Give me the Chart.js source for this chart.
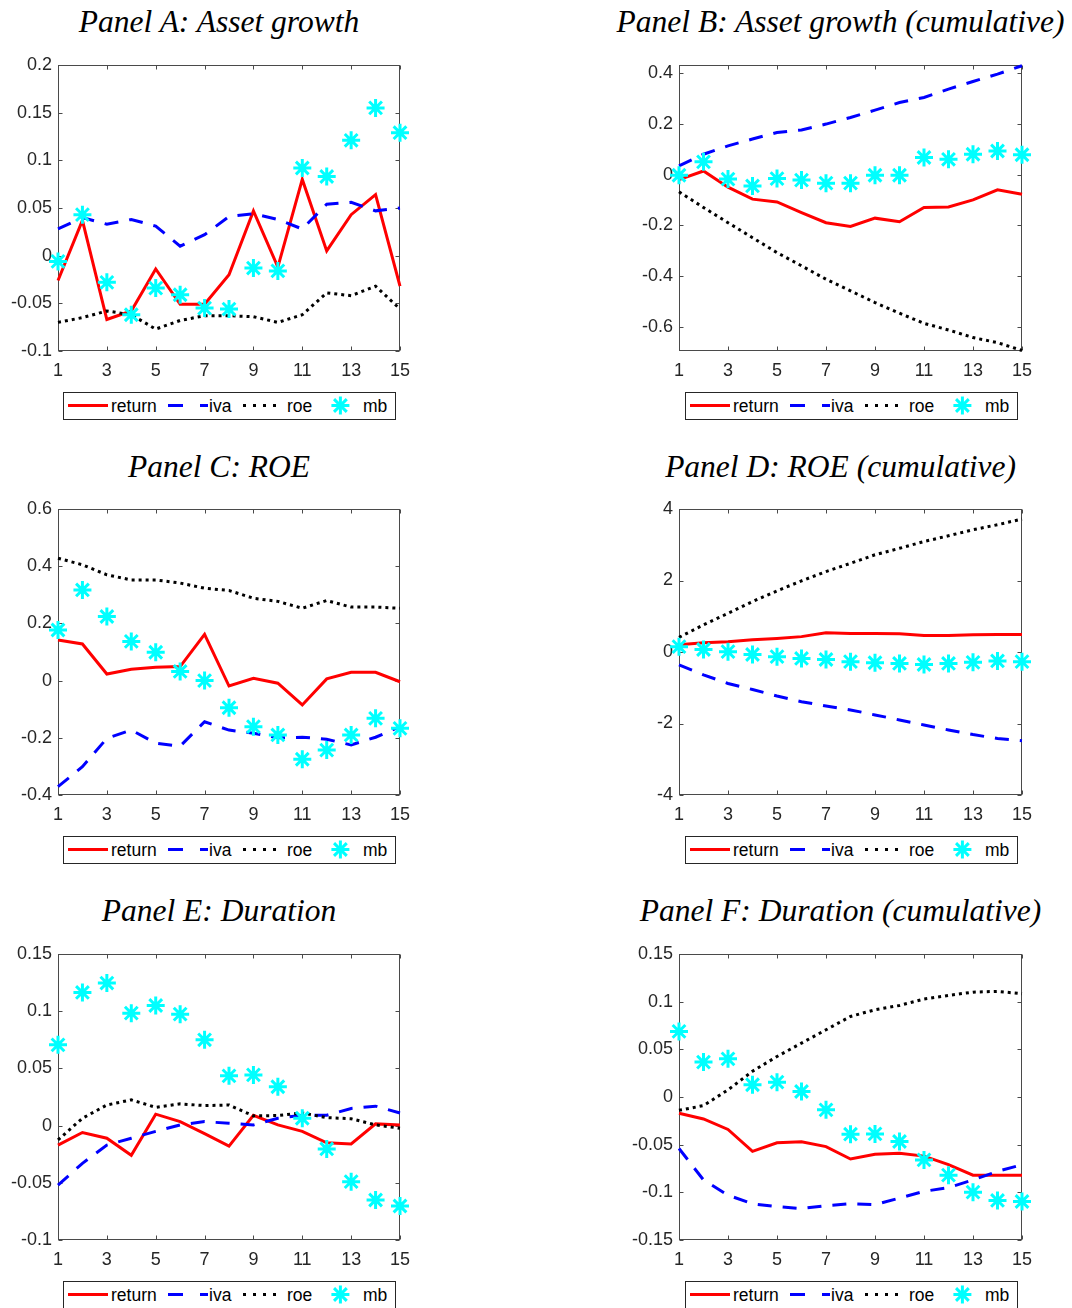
<!DOCTYPE html>
<html><head><meta charset="utf-8">
<script src="https://cdn.jsdelivr.net/npm/chart.js@4.4.0/dist/chart.umd.min.js"></script>
<style>
body{margin:0;background:#fff;width:1072px;height:1308px;overflow:hidden;position:relative;}
.title{position:absolute;font-family:"Liberation Serif","Times New Roman",serif;font-style:italic;font-size:31.5px;line-height:30px;white-space:nowrap;transform:translateX(-50%);color:#000;}
canvas{position:absolute;}
svg{position:absolute;}
</style></head><body>
<script>
// ---------- data ----------
const periods = [1,2,3,4,5,6,7,8,9,10,11,12,13,14,15];
const xTicks = [1,3,5,7,9,11,13,15];
const seriesNames = ['return','iva','roe','mb'];

// Panel A: Asset growth
const aReturn = [-0.026,0.037,-0.067,-0.058,-0.014,-0.051,-0.051,-0.020,0.047,-0.012,0.080,0.005,0.043,0.064,-0.032];
const aIva    = [0.028,0.040,0.033,0.038,0.031,0.010,0.022,0.041,0.044,0.038,0.028,0.054,0.056,0.047,0.050];
const aRoe    = [-0.070,-0.065,-0.058,-0.062,-0.077,-0.068,-0.063,-0.063,-0.064,-0.070,-0.062,-0.039,-0.042,-0.032,-0.056];
const aMb     = [-0.006,0.043,-0.028,-0.062,-0.034,-0.041,-0.055,-0.056,-0.013,-0.016,0.092,0.083,0.121,0.155,0.129];
const aTicks  = [-0.1,-0.05,0,0.05,0.1,0.15,0.2];

// Panel B: Asset growth (cumulative)
const bReturn = [-0.020,0.014,-0.050,-0.097,-0.108,-0.150,-0.190,-0.205,-0.172,-0.186,-0.130,-0.128,-0.100,-0.060,-0.078];
const bIva    = [0.034,0.080,0.113,0.140,0.166,0.176,0.199,0.225,0.254,0.284,0.304,0.337,0.367,0.396,0.429];
const bRoe    = [-0.068,-0.130,-0.190,-0.249,-0.308,-0.360,-0.413,-0.459,-0.505,-0.547,-0.587,-0.613,-0.643,-0.663,-0.694];
const bMb     = [-0.003,0.050,-0.018,-0.045,-0.016,-0.022,-0.034,-0.034,-0.003,-0.003,0.067,0.060,0.080,0.093,0.078];
const bTicks  = [-0.6,-0.4,-0.2,0,0.2,0.4];

// Panel C: ROE
const cReturn = [0.142,0.128,0.023,0.040,0.047,0.049,0.162,-0.019,0.008,-0.009,-0.085,0.006,0.029,0.029,-0.004];
const cIva    = [-0.371,-0.301,-0.202,-0.173,-0.219,-0.229,-0.144,-0.173,-0.184,-0.200,-0.198,-0.205,-0.225,-0.198,-0.161];
const cRoe    = [0.428,0.405,0.370,0.352,0.352,0.341,0.323,0.315,0.288,0.277,0.253,0.280,0.257,0.257,0.253];
const cMb     = [0.177,0.317,0.224,0.137,0.099,0.032,0.000,-0.095,-0.161,-0.190,-0.275,-0.243,-0.190,-0.132,-0.167];
const cTicks  = [-0.4,-0.2,0,0.2,0.4,0.6];

// Panel D: ROE (cumulative)
const dReturn = [0.20,0.26,0.29,0.34,0.38,0.43,0.54,0.52,0.52,0.51,0.46,0.46,0.48,0.49,0.49];
const dIva    = [-0.36,-0.64,-0.88,-1.05,-1.23,-1.39,-1.51,-1.62,-1.76,-1.90,-2.04,-2.18,-2.31,-2.42,-2.48];
const dRoe    = [0.41,0.76,1.08,1.41,1.71,1.99,2.25,2.48,2.72,2.90,3.09,3.25,3.42,3.56,3.72];
const dMb     = [0.15,0.07,0.01,-0.07,-0.13,-0.18,-0.21,-0.27,-0.30,-0.32,-0.35,-0.32,-0.29,-0.25,-0.27];
const dTicks  = [-4,-2,0,2,4];

// Panel E: Duration
const eReturn = [-0.017,-0.006,-0.011,-0.026,0.010,0.0035,-0.007,-0.018,0.009,0.0006,-0.005,-0.015,-0.016,0.0015,0.0006];
const eIva    = [-0.052,-0.033,-0.017,-0.011,-0.005,0.0006,0.0035,0.002,0.0006,0.0064,0.009,0.009,0.015,0.017,0.011];
const eRoe    = [-0.0125,0.0064,0.018,0.0225,0.016,0.019,0.0175,0.018,0.0085,0.0088,0.011,0.007,0.006,0.0006,-0.0023];
const eMb     = [0.0706,0.1164,0.1246,0.0983,0.105,0.0974,0.075,0.0435,0.0443,0.034,0.0064,-0.0204,-0.049,-0.065,-0.0703];
const eTicks  = [-0.1,-0.05,0,0.05,0.1,0.15];

// Panel F: Duration (cumulative)
const fReturn = [-0.017,-0.023,-0.034,-0.057,-0.048,-0.047,-0.052,-0.065,-0.060,-0.059,-0.062,-0.071,-0.082,-0.082,-0.082];
const fIva    = [-0.054,-0.087,-0.103,-0.112,-0.115,-0.117,-0.114,-0.112,-0.113,-0.106,-0.099,-0.095,-0.087,-0.078,-0.071];
const fRoe    = [-0.014,-0.009,0.0075,0.027,0.0425,0.0565,0.0705,0.0845,0.0915,0.096,0.1027,0.1066,0.110,0.1108,0.1083];
const fMb     = [0.0688,0.0366,0.040,0.0128,0.0156,0.0058,-0.0135,-0.039,-0.0387,-0.0467,-0.066,-0.082,-0.0998,-0.1085,-0.1096];
const fTicks  = [-0.15,-0.1,-0.05,0,0.05,0.1,0.15];

const titles = ['Panel A: Asset growth','Panel B: Asset growth (cumulative)','Panel C: ROE','Panel D: ROE (cumulative)','Panel E: Duration','Panel F: Duration (cumulative)'];

// ---------- layout ----------
const colLeft = [58, 679], colWidth = [342, 343];
const rowTop = [65, 509.3, 954.3], plotH = 286;
const panels = [
  {col:0,row:0,s:[aReturn,aIva,aRoe,aMb],min:-0.1,max:0.2,ticks:aTicks},
  {col:1,row:0,s:[bReturn,bIva,bRoe,bMb],min:-0.696,max:0.432,ticks:bTicks},
  {col:0,row:1,s:[cReturn,cIva,cRoe,cMb],min:-0.4,max:0.6,ticks:cTicks},
  {col:1,row:1,s:[dReturn,dIva,dRoe,dMb],min:-4,max:4,ticks:dTicks},
  {col:0,row:2,s:[eReturn,eIva,eRoe,eMb],min:-0.1,max:0.15,ticks:eTicks},
  {col:1,row:2,s:[fReturn,fIva,fRoe,fMb],min:-0.15,max:0.15,ticks:fTicks},
];

const boxPlugin = {
  id:'box',
  beforeDatasetsDraw(chart){
    const {ctx, chartArea:a, scales:{x,y}} = chart;
    ctx.save();
    ctx.strokeStyle = '#4a4a4a'; ctx.lineWidth = 1; ctx.setLineDash([]);
    const L=Math.round(a.left)+0.5, R=Math.round(a.right)-0.5, T=Math.round(a.top)+0.5, B=Math.round(a.bottom)-0.5;
    ctx.strokeRect(L,T,R-L,B-T);
    const tl=4;
    ctx.beginPath();
    x.ticks.forEach(t=>{const px=Math.round(x.getPixelForValue(t.value))+0.5;
      ctx.moveTo(px,B); ctx.lineTo(px,B-tl); ctx.moveTo(px,T); ctx.lineTo(px,T+tl);});
    y.ticks.forEach(t=>{const py=Math.round(y.getPixelForValue(t.value))+0.5;
      ctx.moveTo(L,py); ctx.lineTo(L+tl,py); ctx.moveTo(R,py); ctx.lineTo(R-tl,py);});
    ctx.stroke(); ctx.restore();
  }
};

const tickFont = {family:'"Liberation Sans", Arial, sans-serif', size:18};
const padL=62, padT=26, padR=28, padB=34;

panels.forEach((p,i)=>{
  const left = colLeft[p.col], top = rowTop[p.row], w = colWidth[p.col];
  // title
  const t = document.createElement('div');
  t.className='title'; t.textContent = titles[i];
  t.style.left = (left + w/2 - 10) + 'px';
  t.style.top = (6.7 + 444.8*p.row) + 'px';
  document.body.appendChild(t);
  // canvas
  const cv = document.createElement('canvas');
  const cw = w + padL + padR, ch = plotH + padT + padB;
  cv.width = cw; cv.height = ch;
  cv.style.left = (left - padL) + 'px'; cv.style.top = (top - padT) + 'px';
  cv.style.width = cw+'px'; cv.style.height = ch+'px';
  document.body.appendChild(cv);
  const pts = arr => periods.map((x,k)=>({x, y:arr[k]}));
  new Chart(cv, {
    type:'line',
    data:{datasets:[
      {label:seriesNames[0], data:pts(p.s[0]), borderColor:'#ff0000', borderWidth:3, pointRadius:0, tension:0, order:4, clip:false},
      {label:seriesNames[1], data:pts(p.s[1]), borderColor:'#0000ff', borderWidth:3, borderDash:[14,11], borderCapStyle:'butt', pointRadius:0, tension:0, order:3, clip:false},
      {label:seriesNames[2], data:pts(p.s[2]), borderColor:'#000000', borderWidth:3, borderDash:[3,4], borderCapStyle:'butt', pointRadius:0, tension:0, order:2, clip:false},
      {label:seriesNames[3], data:pts(p.s[3]), showLine:false, borderColor:'#00ffff', backgroundColor:'#00ffff',
        pointStyle:'star', pointRadius:9, pointBorderWidth:3, pointBorderColor:'#00ffff', pointBackgroundColor:'#00ffff', order:1, clip:false},
    ]},
    options:{
      responsive:false, animation:false, devicePixelRatio:1,
      layout:{padding:{left:0,top:padT,right:padR,bottom:0}},
      plugins:{legend:{display:false}, tooltip:{enabled:false}},
      scales:{
        x:{type:'linear', min:1, max:15,
          grid:{display:false, drawTicks:false}, border:{display:false},
          afterBuildTicks:s=>{s.ticks = xTicks.map(v=>({value:v}));},
          afterFit:s=>{s.height = padB;},
          ticks:{autoSkip:false, maxRotation:0, padding:9, color:'#262626', font:tickFont, callback:v=>String(v)}},
        y:{type:'linear', min:p.min, max:p.max,
          grid:{display:false, drawTicks:false}, border:{display:false},
          afterBuildTicks:s=>{s.ticks = p.ticks.map(v=>({value:v}));},
          afterFit:s=>{s.width = padL;},
          ticks:{padding:6, color:'#262626', font:tickFont, callback:v=>String(v)}}
      }
    },
    plugins:[boxPlugin]
  });
  // legend
  const lw=332, lh=27;
  const lx = left + w/2 - lw/2, ly = top + plotH + 41;
  const sx=277.4, sy=13.5, r=9;
  let star='';
  for(let k=0;k<4;k++){const a=k*Math.PI/4; const dx=Math.cos(a)*r, dy=Math.sin(a)*r;
    star += `<line x1="${sx-dx}" y1="${sy-dy}" x2="${sx+dx}" y2="${sy+dy}" stroke="#00ffff" stroke-width="3"/>`;}
  const tf = `font-family='"Liberation Sans", Arial, sans-serif' font-size="17.5" fill="#000"`;
  const svg = `<svg xmlns="http://www.w3.org/2000/svg" width="${lw+1}" height="${lh+1}" style="left:${lx}px;top:${ly}px">
    <rect x="0.5" y="0.5" width="${lw}" height="${lh}" fill="#fff" stroke="#262626" stroke-width="1"/>
    <line x1="5" y1="13.5" x2="45" y2="13.5" stroke="#ff0000" stroke-width="3"/>
    <text x="48" y="19.5" ${tf}>${seriesNames[0]}</text>
    <line x1="105" y1="13.5" x2="145" y2="13.5" stroke="#0000ff" stroke-width="3" stroke-dasharray="15 17"/>
    <text x="146" y="19.5" ${tf}>${seriesNames[1]}</text>
    <line x1="180" y1="13.5" x2="220" y2="13.5" stroke="#000" stroke-width="3" stroke-dasharray="3 7"/>
    <text x="224" y="19.5" ${tf}>${seriesNames[2]}</text>
    ${star}
    <text x="300" y="19.5" ${tf}>${seriesNames[3]}</text>
  </svg>`;
  const holder = document.createElement('div');
  holder.innerHTML = svg;
  document.body.appendChild(holder.firstElementChild);
});
</script>
</body></html>
